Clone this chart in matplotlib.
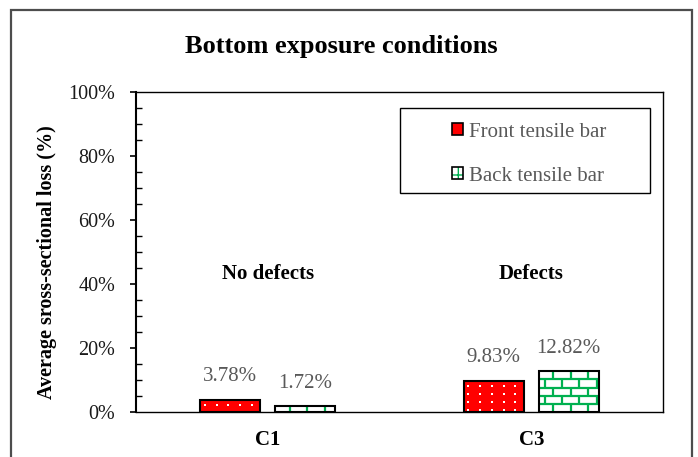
import numpy as np
import matplotlib
matplotlib.use("Agg")
import matplotlib.pyplot as plt
from matplotlib.patches import Patch, Rectangle
from matplotlib.ticker import MultipleLocator, PercentFormatter

plt.rcParams["font.family"] = ["Liberation Serif", "DejaVu Serif"]

categories = ["C1", "C3"]
group_notes = ["No defects", "Defects"]
series_names = ["Front tensile bar", "Back tensile bar"]
front_loss = [0.0378, 0.0983]
back_loss = [0.0172, 0.1282]

RED = "#ff0000"
GREEN = "#00b050"
GREY_TXT = "#595959"

W, H = 698, 457
fig = plt.figure(figsize=(W / 100, H / 100), dpi=100)
ax = fig.add_axes([136 / W, 1 - 412 / H, 527 / W, 320 / H])

x = np.arange(len(categories))
bw = 0.228
off = 0.142

# dotted red fill / green brick fill, both clipped to the bar shape
DX, DY = 0.0444, 0.026
BRICK_W = 0.066


def dots(bar):
    x0, w, h = bar.get_x(), bar.get_width(), bar.get_height()
    xs = np.arange(x0 + DX * 0.4, x0 + w, DX)
    ys = np.arange(h - DY * 0.6, 0, -DY)
    gx, gy = np.meshgrid(xs, ys)
    sc = ax.scatter(gx.ravel(), gy.ravel(), marker="s", s=2.2, color="white",
                    linewidths=0, zorder=3)
    sc.set_clip_path(bar)


def bricks(bar):
    x0, w, h = bar.get_x(), bar.get_width(), bar.get_height()
    row_tops = np.arange(h, 0, -DY)
    for k, yt in enumerate(row_tops):
        yb = max(yt - DY, 0)
        if k > 0:
            ax.plot([x0, x0 + w], [yt, yt], color=GREEN, lw=1.6, zorder=3,
                    clip_path=bar, solid_capstyle="butt")
        start = x0 + (BRICK_W * 0.85 if k % 2 == 0 else BRICK_W * 0.35)
        for xv in np.arange(start, x0 + w, BRICK_W):
            ax.plot([xv, xv], [yb, yt], color=GREEN, lw=1.6, zorder=3,
                    clip_path=bar, solid_capstyle="butt")


front = ax.bar(x - off, front_loss, bw, color=RED, linewidth=0, zorder=2)
back = ax.bar(x + off, back_loss, bw, color="white", linewidth=0, zorder=2)
for b in front:
    dots(b)
for b in back:
    bricks(b)
ax.bar(x - off, front_loss, bw, fill=False, edgecolor="black", lw=1.5, zorder=4)
ax.bar(x + off, back_loss, bw, fill=False, edgecolor="black", lw=1.5, zorder=4)

for xs, vals in ((x - off, front_loss), (x + off, back_loss)):
    for xi, v in zip(xs, vals):
        ax.annotate(f"{v * 100:.2f}%", (xi, v), xytext=(0, 16.5),
                    textcoords="offset points", ha="center", va="center",
                    fontsize=15, color=GREY_TXT)

# group notes, lower edge of the letters cut off
clip = Rectangle((-0.5, 0.426), 2, 0.6, transform=ax.transData)
for xi, note in zip(x, group_notes):
    t = ax.text(xi, 0.4156, note, ha="center", va="baseline", fontsize=15,
                fontweight="bold")
    t.set_clip_path(clip)

ax.set_xlim(-0.5, 1.5)
ax.set_ylim(0, 1)
ax.set_xticks(x)
ax.set_xticklabels(categories, fontsize=15, fontweight="bold")
ax.tick_params(axis="x", length=0, pad=13)
ax.yaxis.set_major_locator(MultipleLocator(0.2))
ax.yaxis.set_minor_locator(MultipleLocator(0.05))
ax.yaxis.set_major_formatter(PercentFormatter(1.0, decimals=0))
ax.tick_params(axis="y", which="major", direction="out", length=4.5,
               width=1.2, labelsize=14.5, labelcolor="#1a1a1a", pad=10.5)
ax.tick_params(axis="y", which="minor", direction="in", length=4, width=1.0)
for side in ("top", "right", "bottom"):
    ax.spines[side].set_linewidth(1.0)
ax.spines["left"].set_linewidth(1.5)

# legend with its own frame
ax.add_patch(Rectangle((0.501, 0.684), 0.474, 0.266, transform=ax.transAxes,
                       fill=False, edgecolor="black", lw=1.0, zorder=5))
h_front = (Patch(facecolor=RED, edgecolor="white", hatch=".", lw=0),
           Patch(fill=False, edgecolor="black", lw=1.2))
h_back = (Patch(facecolor="white", edgecolor=GREEN, hatch="+", lw=0),
          Patch(fill=False, edgecolor="black", lw=1.2))
leg = ax.legend([h_front, h_back], series_names, loc="center",
                bbox_to_anchor=(0.746, 0.806), frameon=False, fontsize=15,
                handlelength=0.55, handleheight=0.55, handletextpad=0.3,
                labelspacing=1.2, labelcolor=GREY_TXT)

fig.text(341 / W, 1 - 47 / H, "Bottom exposure conditions", ha="center",
         va="center", fontsize=19, fontweight="bold")
fig.text(47 / W, 1 - 262 / H, "Average sross-sectional loss (%)",
         rotation=90, ha="center", va="center", fontsize=14.5,
         fontweight="bold")

# outer chart frame, open at the bottom
fig.add_artist(Rectangle((11 / W, -0.05), (692 - 11) / W, 0.05 + 1 - 10 / H,
                         transform=fig.transFigure, fill=False,
                         edgecolor="#4d4d4d", lw=1.6))

fig.savefig("out.png", dpi=100)
